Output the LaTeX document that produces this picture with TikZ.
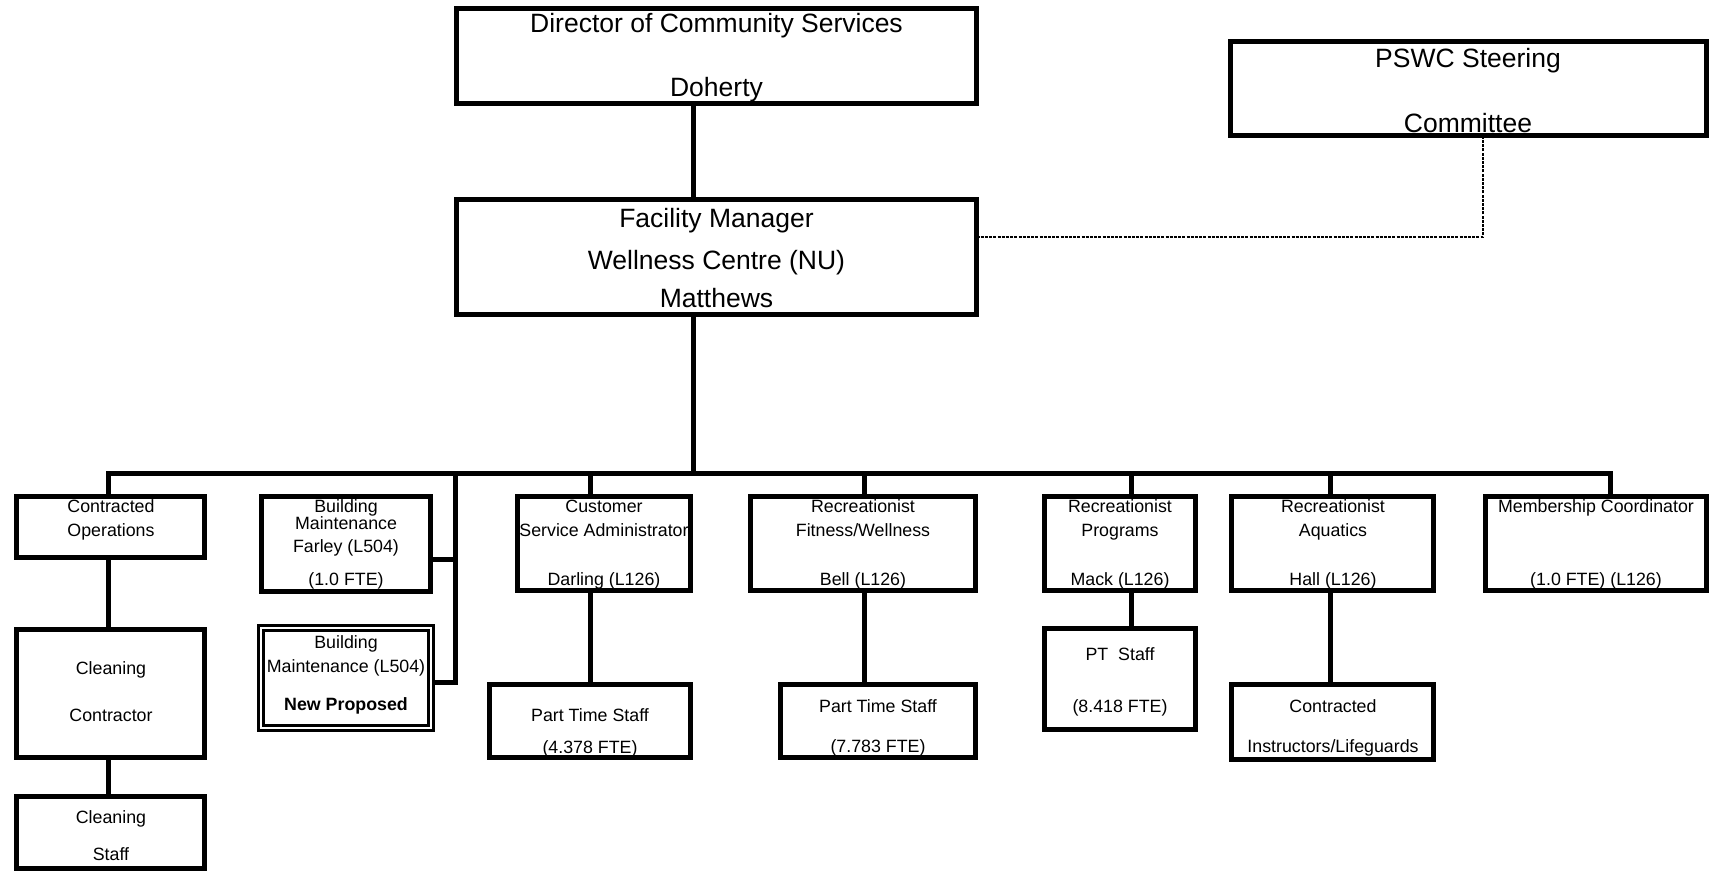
\documentclass[tikz,border=0pt]{standalone}
\usepackage{fontspec}
\setmainfont{Liberation Sans}
% box from corner (x1,y1) to (x2,y2), y grows downwards
\newcommand\orgbox[6][]{\node[box,#1,minimum width={#4-#2},minimum height={#5-#3}] (#6) at ({(#2+#4)/2},{(#3+#5)/2}) {};}
% one line of text, placed on its baseline
\newcommand\tl[5][small]{\node[#1] (#2) at (#3,#4) {#5};}
\begin{document}
\begin{tikzpicture}[x=1pt,y=-1pt,
  box/.style={draw, line width=5pt, inner sep=0pt, outer sep=0pt},
  dbox/.style={draw, line width=3pt, double=white, double distance=2.5pt},
  link/.style={line width=5pt, line join=miter},
  dotlink/.style={line width=2.4pt, dash pattern=on 3pt off 1.2pt},
  small/.style={inner sep=0pt, anchor=base, font=\fontsize{17.8}{20}\selectfont},
  big/.style={inner sep=0pt, anchor=base, font=\fontsize{26.5}{30}\selectfont}]
\useasboundingbox (0,0) rectangle (1710,873);

% ---- boxes ----
\orgbox{456.5}{8.5}{976.5}{103.5}{dir}
\orgbox{456.5}{199.5}{976.5}{314.5}{fm}
\orgbox{1230.5}{41.5}{1706}{135.5}{pswc}

\orgbox{16.5}{496.5}{204.5}{557.5}{co}
\orgbox{16.5}{629.5}{204.5}{757.5}{cc}
\orgbox{16.5}{796.5}{204.5}{868.5}{cst}
\orgbox{261.5}{496.5}{430.5}{591.5}{bmf}
\orgbox[dbox]{261}{628}{431}{728}{bmn}
\orgbox{517.5}{496.5}{690.5}{590.5}{csa}
\orgbox{489.5}{684.5}{690.5}{757.5}{pt1}
\orgbox{750.5}{496.5}{975.5}{590.5}{fw}
\orgbox{780.5}{684.5}{975.5}{757.5}{pt2}
\orgbox{1044.5}{496.5}{1195.5}{590.5}{rp}
\orgbox{1044.5}{628.5}{1195.5}{729.5}{pts}
\orgbox{1231.5}{496.5}{1433.5}{590.5}{aq}
\orgbox{1231.5}{684.5}{1433.5}{759.5}{ci}
\orgbox{1485.5}{496.5}{1706}{590.5}{mc}

% ---- junction points ----
\coordinate (spine) at (693,473);
\coordinate (dco) at (108,473);
\coordinate (dbm) at (455,473);
\coordinate (dcs) at (590,473);
\coordinate (dfw) at (864,473);
\coordinate (drp) at (1131,473);
\coordinate (daq) at (1330,473);
\coordinate (dmc) at (1610,473);
\coordinate (bmfj) at (455,559);
\coordinate (bmnj) at (455,682);
\coordinate (sc) at (1483,237);

% ---- connectors ----
\draw[link] (dir.south -| spine) -- (fm.north -| spine);
\draw[link] (fm.south -| spine) -- (spine);
\draw[link] (co.north -| dco) -- (dco) -- (dmc) -- (mc.north -| dmc);
\draw[link] (co.south -| dco) -- (cc.north -| dco);
\draw[link] (cc.south -| dco) -- (cst.north -| dco);
\draw[link] (dbm) -- (bmnj) -- ([xshift=4pt]bmn.east |- bmnj);
\draw[link] (bmfj) -- (bmf.east |- bmfj);
\draw[link] (dcs) -- (csa.north -| dcs);
\draw[link] (csa.south -| dcs) -- (pt1.north -| dcs);
\draw[link] (dfw) -- (fw.north -| dfw);
\draw[link] (fw.south -| dfw) -- (pt2.north -| dfw);
\draw[link] (drp) -- (rp.north -| drp);
\draw[link] (rp.south -| drp) -- (pts.north -| drp);
\draw[link] (daq) -- (aq.north -| daq);
\draw[link] (aq.south -| daq) -- (ci.north -| daq);
\draw[dotlink] (sc -| fm.east) -- (sc) -- (pswc.south -| sc);

% ---- texts ----
\tl[big]{dirA}{716.5}{32}{Director of Community Services}
\tl[big]{dirB}{716.5}{96}{Doherty}
\tl[big]{fmA}{716.5}{227}{Facility Manager}
\tl[big]{fmB}{716.5}{269}{Wellness Centre (NU)}
\tl[big]{fmC}{716.5}{307}{Matthews}
\tl[big]{psA}{1468}{67}{PSWC Steering}
\tl[big]{psB}{1468}{132}{Committee}

\tl{coA}{111}{512}{Contracted}
\tl{coB}{111}{536}{Operations}
\tl{ccA}{111}{674}{Cleaning}
\tl{ccB}{111}{721}{Contractor}
\tl{cstA}{111}{823}{Cleaning}
\tl{cstB}{111}{860}{Staff}

\tl{bmfA}{346}{512}{Building}
\tl{bmfB}{346}{529}{Maintenance}
\tl{bmfC}{346}{552}{Farley (L504)}
\tl{bmfD}{346}{585}{(1.0 FTE)}
\tl{bmnA}{346}{648}{Building}
\tl{bmnB}{346}{672}{Maintenance (L504)}
\tl{bmnC}{346}{710}{\bfseries New Proposed}

\tl{csaA}{604}{512}{Customer}
\tl{csaB}{604}{536}{Service Administrator}
\tl{csaC}{604}{585}{Darling (L126)}
\tl{pt1A}{590}{721}{Part Time Staff}
\tl{pt1B}{590}{753}{(4.378 FTE)}

\tl{fwA}{863}{512}{Recreationist}
\tl{fwB}{863}{536}{Fitness/Wellness}
\tl{fwC}{863}{585}{Bell (L126)}
\tl{pt2A}{878}{712}{Part Time Staff}
\tl{pt2B}{878}{752}{(7.783 FTE)}

\tl{rpA}{1120}{512}{Recreationist}
\tl{rpB}{1120}{536}{Programs}
\tl{rpC}{1120}{585}{Mack (L126)}
\tl{ptsA}{1120}{660}{PT\ \ Staff}
\tl{ptsB}{1120}{712}{(8.418 FTE)}

\tl{aqA}{1333}{512}{Recreationist}
\tl{aqB}{1333}{536}{Aquatics}
\tl{aqC}{1333}{585}{Hall (L126)}
\tl{ciA}{1333}{712}{Contracted}
\tl{ciB}{1333}{752}{Instructors/Lifeguards}

\tl{mcA}{1596}{512}{Membership Coordinator}
\tl{mcB}{1596}{585}{(1.0 FTE) (L126)}
\end{tikzpicture}
\end{document}
